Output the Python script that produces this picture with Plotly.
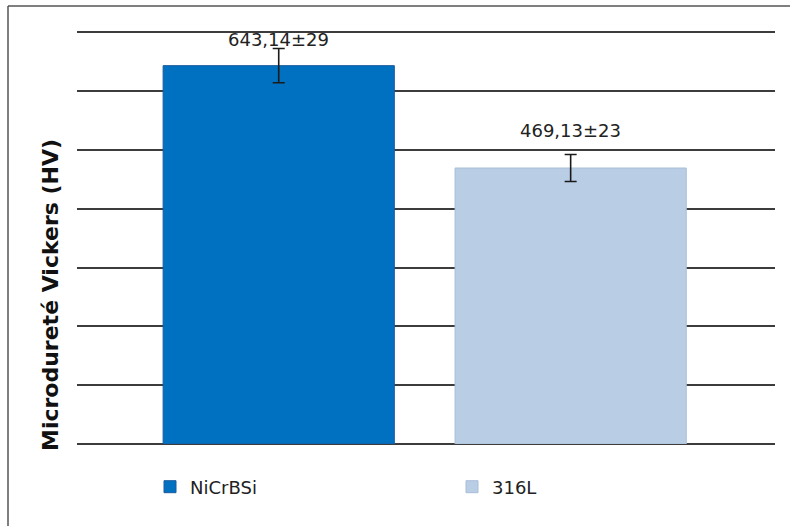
import plotly.graph_objects as go

# Vickers microhardness of the two coatings
materials = ["NiCrBSi", "316L"]
hardness = [643.14, 469.13]
deviation = [29, 23]
value_labels = ["643,14±29", "469,13±23"]
axis_title = "Microdureté Vickers (HV)"

bar_colors = ["#0070C0", "#B9CDE5"]
edge_colors = ["#1B5C9E", "#A9BED8"]
label_shift = [26, 38]  # pixels above the bar top

L, R, T, B = 77, 15, 31, 82
W, H = 790, 526
pw, ph = W - L - R, H - T - B


def px_x(x):
    return (x - L) / pw


def px_y(y):
    return (H - B - y) / ph


fig = go.Figure()
for name, val, err, col, edge in zip(materials, hardness, deviation, bar_colors, edge_colors):
    fig.add_trace(go.Bar(
        x=[name], y=[val], name=name, width=0.792,
        marker=dict(color=col, line=dict(color=edge, width=1)),
        error_y=dict(type="data", array=[err], visible=True,
                     color="#1a1a1a", thickness=1.6, width=6),
    ))

for name, val, txt, sh in zip(materials, hardness, value_labels, label_shift):
    fig.add_annotation(x=name, y=val, text=txt, showarrow=False,
                       yshift=sh, yanchor="middle",
                       font=dict(family="DejaVu Sans", size=18, color="#222222"))

# vertical axis title, set lower than the plot centre
fig.add_annotation(xref="paper", yref="paper", x=px_x(50), y=px_y(295),
                   text=axis_title, textangle=-90, showarrow=False,
                   xanchor="center", yanchor="middle",
                   font=dict(family="DejaVu Sans", size=22, color="#111111",
                             weight="bold"))

# outer frame (left and top edges)
frame = dict(type="line", xref="paper", yref="paper",
             line=dict(color="#555555", width=1.5), layer="above")
fig.add_shape(**frame, x0=px_x(8), x1=px_x(8), y0=px_y(6), y1=px_y(540))
fig.add_shape(**frame, x0=px_x(8), x1=px_x(800), y0=px_y(6), y1=px_y(6))

fig.update_layout(
    width=W, height=H,
    margin=dict(l=L, r=R, t=T, b=B, autoexpand=False),
    paper_bgcolor="white", plot_bgcolor="white",
    barmode="overlay",
    font=dict(family="DejaVu Sans", color="#222222"),
    legend=dict(orientation="h", x=px_x(150), xanchor="left",
                y=px_y(487), yanchor="middle",
                entrywidth=257, entrywidthmode="pixels",
                font=dict(family="DejaVu Sans", size=18, color="#222222")),
    showlegend=True,
)
fig.update_xaxes(range=[-0.691, 1.70], showticklabels=False, showgrid=False,
                 zeroline=False, showline=False, ticks="")
fig.update_yaxes(range=[0, 702], dtick=100, showticklabels=False, ticks="",
                 showgrid=True, gridcolor="#3c3c3c", gridwidth=1.5,
                 zeroline=True, zerolinecolor="#3c3c3c", zerolinewidth=1.5)

fig.write_html("out.html")
